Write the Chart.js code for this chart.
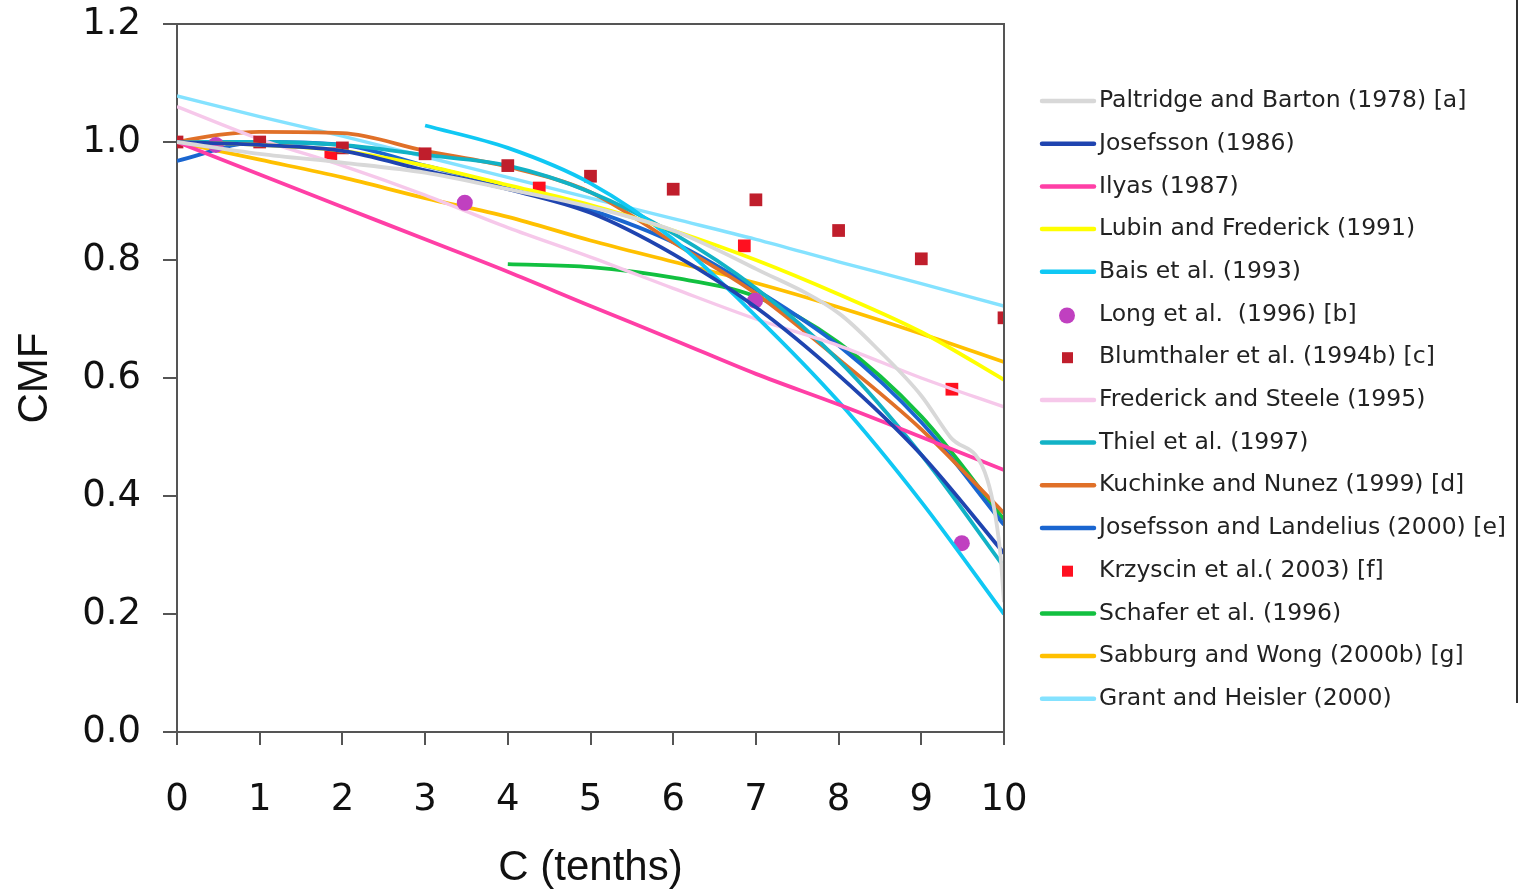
<!DOCTYPE html>
<html><head><meta charset="utf-8">
<script src="https://cdn.jsdelivr.net/npm/chart.js@4/dist/chart.umd.min.js"></script>
<style>html,body{margin:0;padding:0;background:#fff;}#wrap{width:1520px;height:894px;position:relative;}</style>
</head><body><div id="wrap"><canvas id="c" width="1520" height="894"></canvas></div>
<script>
const xTicks = [0,1,2,3,4,5,6,7,8,9,10];
const yTicks = [0,0.2,0.4,0.6,0.8,1.0,1.2];
const cloudX = [0,1,2,3,4,5,6,7,8,9,10];

const paltridgeX = [0,1,2,3,4,5,6,7,8,8.5,9,9.35,9.8,9.95,10];
const paltridgeY = [1.0,0.98,0.965,0.948,0.92,0.89,0.85,0.785,0.71,0.645,0.57,0.5,0.427,0.31,0.22];
const josefsson86Y = [1.0,0.995,0.985,0.952,0.92,0.88,0.81,0.72,0.605,0.47,0.303];
const ilyasY = [1.0,0.945,0.89,0.835,0.78,0.722,0.665,0.607,0.555,0.5,0.444];
const lubinY = [1.0,0.995,0.985,0.96,0.927,0.893,0.85,0.80,0.742,0.678,0.597];
const baisX = [3,4,5,6,7,8,9,10];
const baisY = [1.028,0.99,0.93,0.835,0.705,0.56,0.39,0.2];
const longX = [0.47,3.48,6.99,9.49];
const longY = [0.995,0.897,0.731,0.32];
const blumthalerY = [1.0,1.0,0.99,0.98,0.96,0.942,0.92,0.902,0.85,0.802,0.702];
const fredSteeleY = [1.06,1.005,0.96,0.91,0.855,0.805,0.752,0.70,0.655,0.60,0.551];
const thielY = [1.0,1.0,0.995,0.978,0.96,0.915,0.845,0.752,0.63,0.47,0.28];
const kuchinkeX = [0,0.5,1,2,3,4,5,6,7,8,9,10];
const kuchinkeY = [1.0,1.012,1.017,1.015,0.985,0.958,0.915,0.83,0.743,0.632,0.513,0.371];
const landeliusY = [0.968,1.0,0.995,0.96,0.925,0.885,0.83,0.75,0.655,0.525,0.351];
const krzyscinX = [1.86,4.38,6.86,9.37];
const krzyscinY = [0.98,0.922,0.824,0.581];
const schaferX = [4,5,6,7,8,9,10];
const schaferY = [0.793,0.788,0.77,0.738,0.66,0.535,0.36];
const sabburgY = [1.0,0.97,0.94,0.905,0.873,0.833,0.797,0.761,0.72,0.675,0.627];
const grantY = [1.078,1.043,1.01,0.975,0.94,0.905,0.87,0.835,0.797,0.76,0.722];

const pts = (xs, ys) => xs.map((x, i) => ({x: x, y: ys[i]}));
const line = (label, xs, ys, color, w) => ({label, data: pts(xs, ys), showLine: true, borderColor: color, backgroundColor: color, borderWidth: w || 3.8, pointRadius: 0, tension: 0.4, cubicInterpolationMode: 'monotone', kind: 'line'});
const marks = (label, xs, ys, color, style, r) => ({label, data: pts(xs, ys), showLine: false, borderColor: color, backgroundColor: color, borderWidth: 0, pointStyle: style, pointRadius: r, kind: style});

const datasets = [
  line('Paltridge and Barton (1978) [a]', paltridgeX, paltridgeY, '#D8D8D8'),
  line('Josefsson (1986)', cloudX, josefsson86Y, '#1F44B0'),
  line('Ilyas (1987)', cloudX, ilyasY, '#FF3FA6'),
  line('Lubin and Frederick (1991)', cloudX, lubinY, '#FFFF00'),
  line('Bais et al. (1993)', baisX, baisY, '#10C8F4'),
  marks('Long et al.  (1996) [b]', longX, longY, '#C040C0', 'circle', 8),
  marks('Blumthaler et al. (1994b) [c]', cloudX, blumthalerY, '#C01E2C', 'rect', 9),
  line('Frederick and Steele (1995)', cloudX, fredSteeleY, '#F6C8EA', 3.4),
  line('Thiel et al. (1997)', cloudX, thielY, '#12B2C6'),
  line('Kuchinke and Nunez (1999) [d]', kuchinkeX, kuchinkeY, '#E07028'),
  line('Josefsson and Landelius (2000) [e]', cloudX, landeliusY, '#1A66D0'),
  marks('Krzyscin et al.( 2003) [f]', krzyscinX, krzyscinY, '#FF1020', 'rect', 9),
  line('Schafer et al. (1996)', schaferX, schaferY, '#12C040'),
  line('Sabburg and Wong (2000b) [g]', cloudX, sabburgY, '#FFC000'),
  line('Grant and Heisler (2000)', cloudX, grantY, '#84E2FF', 3.4)
];

const FONT = "'DejaVu Sans', sans-serif";
const TFONT = "'Liberation Sans', Arial, sans-serif";
const AXIS = '#555';

const framePlugin = {
  id: 'frame',
  afterDraw(chart) {
    const {ctx, chartArea: a} = chart;
    ctx.save();
    ctx.strokeStyle = AXIS; ctx.lineWidth = 2;
    ctx.beginPath();
    ctx.moveTo(a.left, a.top); ctx.lineTo(a.right, a.top); ctx.lineTo(a.right, a.bottom);
    ctx.stroke();
    // legend box edge
    ctx.strokeStyle = '#333';
    ctx.beginPath(); ctx.moveTo(1517, 0); ctx.lineTo(1517, 703); ctx.stroke();
    // legend
    const x0 = 1042, x1 = 1094, tx = 1099;
    ctx.font = '23.5px ' + FONT;
    ctx.textBaseline = 'middle';
    ctx.textAlign = 'left';
    chart.data.datasets.forEach((ds, i) => {
      const y = 100 + i * 42.7;
      if (ds.kind === 'line') {
        ctx.strokeStyle = ds.borderColor; ctx.lineWidth = 4.5; ctx.lineCap = 'round';
        ctx.beginPath(); ctx.moveTo(x0, y + 1); ctx.lineTo(x1, y + 1); ctx.stroke();
      } else if (ds.kind === 'circle') {
        ctx.fillStyle = ds.backgroundColor;
        ctx.beginPath(); ctx.arc(1067, y + 2, 8, 0, Math.PI * 2); ctx.fill();
      } else {
        ctx.fillStyle = ds.backgroundColor;
        ctx.fillRect(1062, y - 4, 11, 11);
      }
      ctx.fillStyle = '#222';
      ctx.fillText(ds.label, tx, y + 1);
    });
    ctx.restore();
  }
};

new Chart(document.getElementById('c'), {
  type: 'scatter',
  data: {datasets},
  options: {
    responsive: false,
    animation: false,
    layout: {padding: {top: 24, right: 516, left: 0, bottom: 0}},
    plugins: {legend: {display: false}, tooltip: {enabled: false}},
    scales: {
      x: {
        type: 'linear', min: 0, max: 10,
        afterBuildTicks: (s) => { s.ticks = xTicks.map(v => ({value: v})); },
        afterFit: (s) => { s.height = 162; },
        grid: {drawOnChartArea: false, drawTicks: true, tickLength: 13, color: AXIS, lineWidth: 2},
        border: {display: true, color: AXIS, width: 2},
        ticks: {autoSkip: false, maxRotation: 0, padding: 33, color: '#111', font: {family: FONT, size: 37}, callback: v => String(v)},
        title: {display: true, text: 'C (tenths)', color: '#111', font: {family: TFONT, size: 42}, padding: {top: 0, bottom: 0}}
      },
      y: {
        type: 'linear', min: 0, max: 1.2,
        afterBuildTicks: (s) => { s.ticks = yTicks.map(v => ({value: v})); },
        afterFit: (s) => { s.width = 177; s.paddingTop = 0; s.paddingBottom = 0; },
        grid: {drawOnChartArea: false, drawTicks: true, tickLength: 14, color: AXIS, lineWidth: 2},
        border: {display: true, color: AXIS, width: 2},
        ticks: {padding: 22, color: '#111', font: {family: FONT, size: 37, lineHeight: 0.5}, callback: v => Number(v).toFixed(1)},
        title: {display: true, text: 'CMF', color: '#111', font: {family: TFONT, size: 42}, padding: {top: 10, bottom: 0}}
      }
    }
  },
  plugins: [framePlugin]
});
</script></body></html>
